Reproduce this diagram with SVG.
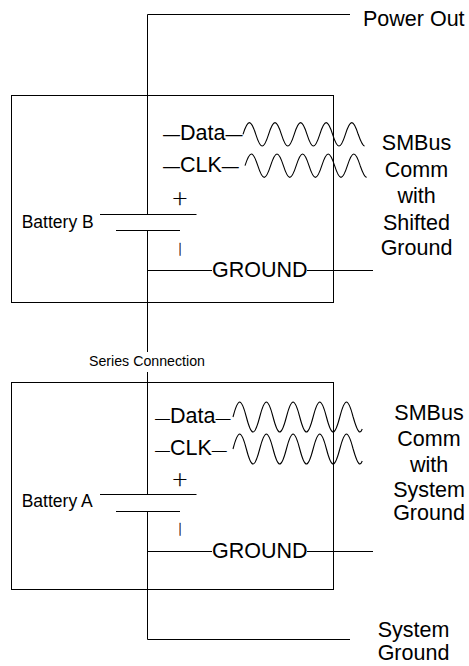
<svg xmlns="http://www.w3.org/2000/svg" width="469" height="666" viewBox="0 0 469 666">
<style>
.ln{stroke:#000;stroke-width:1;fill:none}
.wv{stroke:#000;stroke-width:1.1;fill:none}
.box{stroke:#000;stroke-width:1;fill:none}
.t{font-family:"Liberation Sans",Arial,sans-serif;font-size:21.5px;fill:#000}
.bt{font-family:"Liberation Sans",Arial,sans-serif;font-size:17.5px;fill:#000}
.sc{font-family:"Liberation Sans",Arial,sans-serif;font-size:14.2px;fill:#000}
.sym{font-family:"DejaVu Sans",sans-serif;font-weight:200;fill:#000;stroke:#000;stroke-width:0.3}
.mid{text-anchor:middle}
</style>
<rect width="469" height="666" fill="#fff"/>
<g id="connectors">
<path class="ln" d="M350,14.5H147.5V214.5"/>
<path class="ln" d="M147.5,230.5V352"/>
<path class="ln" d="M147.5,372V494.5"/>
<path class="ln" d="M147.5,511.5V639.5H350"/>
<path class="ln" d="M147.5,270.5H212M307,270.5H373"/>
<path class="ln" d="M147.5,551.5H212M307,551.5H373"/>
</g>
<g id="battery-b">
<rect class="box" x="11.5" y="95.5" width="322" height="207"/>
<text class="t" x="163" y="140"><tspan font-size="17px">—</tspan>Data<tspan font-size="17px">—</tspan></text>
<path class="wv" d="M243,134.3c5,-15.6 7.8,-15.6 12.8,0s7.8,15.6 12.8,0s7.8,-15.6 12.8,0s7.8,15.6 12.8,0s7.8,-15.6 12.8,0s7.8,15.6 12.8,0s7.8,-15.6 12.8,0s7.8,15.6 12.8,0s7.8,-15.6 12.8,0c2.1,6 4.1,11.7 6.4,11.7"/>
<text class="t" x="163" y="171.7"><tspan font-size="17px">—</tspan>CLK<tspan font-size="17px">—</tspan></text>
<path class="wv" d="M245,165.7c5,-15.6 7.8,-15.6 12.8,0s7.8,15.6 12.8,0s7.8,-15.6 12.8,0s7.8,15.6 12.8,0s7.8,-15.6 12.8,0s7.8,15.6 12.8,0s7.8,-15.6 12.8,0s7.8,15.6 12.8,0s7.8,-15.6 12.8,0c2.1,6 4.1,11.7 6.4,11.7"/>
<text class="sym mid" x="180" y="205" font-size="20">+</text>
<path class="ln" d="M100,214.5H196.5M116,230.5H180"/>
<text class="bt" x="21.7" y="228.3">Battery B</text>
<text class="sym mid" x="180" y="253" font-size="12">|</text>
<text class="t" x="212" y="277">GROUND</text>
</g>
<g id="smbus-shifted">
<text class="t mid" x="416.5" y="150">SMBus</text>
<text class="t mid" x="416.5" y="176.5">Comm</text>
<text class="t mid" x="416.5" y="203">with</text>
<text class="t mid" x="416.5" y="229.5">Shifted</text>
<text class="t mid" x="416.5" y="255">Ground</text>
</g>
<g id="power-out">
<text class="t" x="363" y="26">Power Out</text>
</g>
<g id="series-connection">
<text class="sc" x="89" y="366">Series Connection</text>
</g>
<g id="battery-a">
<rect class="box" x="11.5" y="382.5" width="322" height="207"/>
<text class="t" x="155" y="423.3"><tspan font-size="15px">—</tspan>Data<tspan font-size="15px">—</tspan></text>
<path class="wv" d="M233,417c5.2,-20 8.15,-20 13.35,0s8.15,20 13.35,0s8.15,-20 13.35,0s8.15,20 13.35,0s8.15,-20 13.35,0s8.15,20 13.35,0s8.15,-20 13.35,0s8.15,20 13.35,0s8.15,-20 13.35,0c2.2,7.7 4.3,15 6.7,15c1,0 1.8,-1.5 2.4,-3"/>
<text class="t" x="155" y="455"><tspan font-size="15px">—</tspan>CLK<tspan font-size="15px">—</tspan></text>
<path class="wv" d="M233,449c5.2,-20 8.15,-20 13.35,0s8.15,20 13.35,0s8.15,-20 13.35,0s8.15,20 13.35,0s8.15,-20 13.35,0s8.15,20 13.35,0s8.15,-20 13.35,0s8.15,20 13.35,0s8.15,-20 13.35,0c2.2,7.7 4.3,15 6.7,15c1,0 1.8,-1.5 2.4,-3"/>
<text class="sym mid" x="180" y="486" font-size="20">+</text>
<path class="ln" d="M100,494.5H196.5M116,511.5H180"/>
<text class="bt" x="21.7" y="507">Battery A</text>
<text class="sym mid" x="180" y="533" font-size="12">|</text>
<text class="t" x="212" y="558">GROUND</text>
</g>
<g id="smbus-system">
<text class="t mid" x="429" y="420">SMBus</text>
<text class="t mid" x="429" y="446">Comm</text>
<text class="t mid" x="429" y="471.5">with</text>
<text class="t mid" x="429" y="497">System</text>
<text class="t mid" x="429" y="520">Ground</text>
</g>
<g id="system-ground">
<text class="t mid" x="413.5" y="637">System</text>
<text class="t mid" x="413.5" y="660">Ground</text>
</g>
</svg>
